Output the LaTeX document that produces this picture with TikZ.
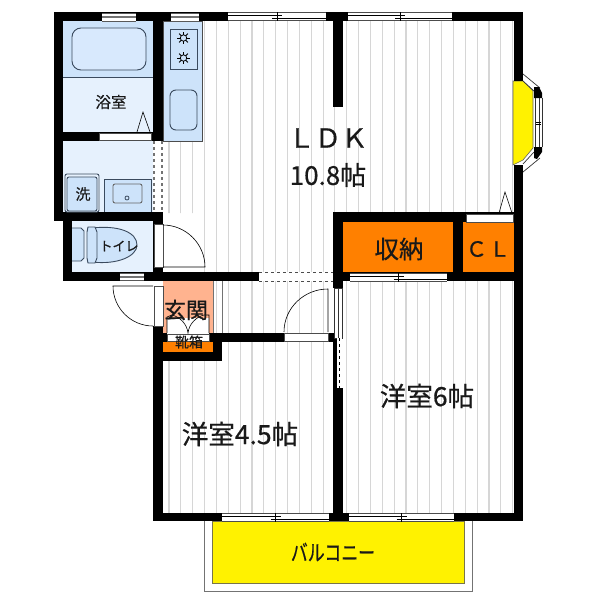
\documentclass[tikz,border=0pt]{standalone}
\usepackage{fontspec}
\usepackage{xcolor}
\setmainfont{Noto Sans CJK JP}[RawFeature={embolden=0.6}]
\definecolor{bathpale}{HTML}{E6F1FD}
\definecolor{bathblue}{HTML}{CDE3FA}
\definecolor{tubblue}{HTML}{D8E9FD}
\definecolor{storeorange}{HTML}{FF8000}
\definecolor{entrypeach}{HTML}{FFB38F}
\definecolor{hatchgrey}{HTML}{D6D6D6}
\definecolor{fixline}{HTML}{3A4A5E}
\begin{document}
\begin{tikzpicture}[x=1pt,y=-1pt,
                    wall/.style={fill=black},
                    fixture/.style={draw=fixline,line width=0.9pt,fill=bathblue},
                    doorleaf/.style={draw=black,line width=0.6pt},
                    opening/.style={fill=white,draw=black!70,line width=0.6pt},
                    glass/.style={draw=black,line width=0.9pt},
                    lbl/.style={inner sep=0pt,text=black!90}]
    \useasboundingbox (0,0) rectangle (600,600);
    % floor hatching
    \begin{scope}
        \clip (163,21) rectangle (513,213)
              (202,21) rectangle (333,272)
              (214,281) rectangle (333,333)
              (163,341) rectangle (333,513)
              (343,281) rectangle (513,513);
        \foreach \k in {0,...,29}
            \draw[hatchgrey,line width=1.1pt] ({169+11.85*\k},0) -- ({169+11.85*\k},600);
    \end{scope}
    % room fills
    \fill[bathpale] (63,21) rectangle (153,132);
    \fill[bathblue] (63,21) rectangle (153,77);
    \draw[fixline,line width=0.7pt] (63,77) -- (153,77);
    \fill[bathpale] (63,141) rectangle (153,212);
    \fill[bathpale] (72,221) rectangle (153,272);
    \fill[bathblue,draw=black!70,line width=0.5pt] (163,21) rectangle (202,141);
    \fill[entrypeach] (163,281) rectangle (213,333);
    \draw[black!55,line width=0.9pt] (213,281) -- (213,333) (222,281) -- (222,333);
    \fill[storeorange] (343,222) rectangle (453,272);
    \fill[storeorange] (463,222) rectangle (514,272);
    \fill[storeorange] (163,342) rectangle (213,352);
    % balcony
    \draw[black!55,line width=1pt] (204,521) -- (204,591) -- (472,591) -- (472,521);
    \fill[yellow,draw=black!60!yellow,line width=0.7pt] (212,521) rectangle (464,583);
    % bay window
    \fill[yellow,draw=black!60,line width=0.6pt] (513,81) -- (523,81) -- (533,91) -- (533,148) -- (523,160) -- (513,165) -- cycle;
    \draw[black!80,line width=0.7pt] (523,74) -- (540,88) (523,172) -- (540,158) (523,81) -- (534,91) (523,164) -- (534,152);
    \fill[black] (534,87) -- (539,87) -- (542,93) -- (542,98) -- (534,98) -- cycle;
    \fill[black] (534,147) -- (542,147) -- (542,152) -- (537,159) -- (534,158) -- cycle;
    \draw[black!80,line width=0.9pt] (535,98) -- (535,147) (539,98) -- (539,147) (542,98) -- (542,147);
    \draw[black,line width=0.6pt] (536,122) -- (541,122) (536,124) -- (541,124);
    % walls
    \fill[wall] (54,12) rectangle (523,21);
    \fill[wall] (54,12) rectangle (63,221);
    \fill[wall] (153,12) rectangle (163,141);
    \fill[wall] (54,132) rectangle (163,141);
    \fill[wall] (54,212) rectangle (163,221);
    \fill[wall] (63,221) rectangle (72,280);
    \fill[wall] (63,272) rectangle (163,281);
    \fill[wall] (153,221) rectangle (163,281);
    \fill[wall] (153,272) rectangle (259,281);
    \fill[wall] (153,326) rectangle (163,521);
    \fill[wall] (163,333) rectangle (167,342);
    \fill[wall] (209,333) rectangle (342,342);
    \fill[wall] (213,342) rectangle (222,361);
    \fill[wall] (153,352) rectangle (222,361);
    \fill[wall] (333,212) rectangle (523,222);
    \fill[wall] (333,212) rectangle (343,288);
    \fill[wall] (333,272) rectangle (523,281);
    \fill[wall] (453,222) rectangle (463,272);
    \fill[wall] (333,338) rectangle (337,388);
    \fill[wall] (333,388) rectangle (343,521);
    \fill[wall] (333,21) rectangle (343,107);
    \fill[wall] (514,12) rectangle (523,81);
    \fill[wall] (514,165) rectangle (523,521);
    \fill[wall] (153,513) rectangle (523,521);
    % small windows
    \foreach \xa/\xb/\ya/\yb in {102/136/13/21,171/199/13/21,120/144/273/280} {
        \fill[white] (\xa,\ya) rectangle (\xb,\yb);
        \draw[black!65,line width=0.7pt] (\xa,\ya) -- (\xb,\ya) (\xa,\yb) -- (\xb,\yb);
        \fill[black!55] (\xa,{(\ya+\yb)/2-1}) rectangle (\xb,{(\ya+\yb)/2+1});
    }
    % sliding windows
    \foreach \xa/\xb/\ya in {228/326/12,348/452/12,350/447/273,222/329/513,349/454/513} {
        \fill[white] (\xa,\ya) rectangle (\xb,\ya+8.5);
        \draw[black!70,line width=0.6pt] (\xa,\ya) -- (\xb,\ya) (\xa,\ya+8.5) -- (\xb,\ya+8.5);
        \draw[glass] (\xa,\ya+3) -- ({(\xa+\xb)/2+5},\ya+3);
        \draw[glass] ({(\xa+\xb)/2-5},\ya+6) -- (\xb,\ya+6);
        \draw[black,line width=0.6pt] ({(\xa+\xb)/2},\ya) -- ({(\xa+\xb)/2},\ya+8.5);
    }
    % doors and openings
    \fill[opening] (99,133) rectangle (151,140);
    \fill[opening] (466,214) rectangle (513,222);
    \fill[opening] (284,333) rectangle (328,341);
    \fill[opening] (154,224) rectangle (163,267);
    \fill[opening] (154,286) rectangle (163,326);
    \fill[white] (334,288) rectangle (342,338);
    \draw[black!80,line width=0.6pt] (334,288) rectangle (342,338) (338,288) -- (338,338);
    \fill[white] (337,338) rectangle (342,388);
    \draw[black,line width=0.9pt,dashed] (339.5,338) -- (339.5,388);
    \draw[doorleaf] (137,132) -- (143,112) -- (150,132);
    \draw[doorleaf] (499,213) -- (505,192) -- (512,213);
    \draw[doorleaf] (163,225) .. controls (186,225) and (205,244) .. (205,267) -- (163,267);
    \draw[doorleaf] (153,286) -- (113,286) .. controls (113,308) and (131,326) .. (153,326);
    \draw[doorleaf] (284,332) .. controls (284,308) and (304,289) .. (328,289) -- (328,332);
    % dashed room boundaries
    \draw[black!55,line width=1.1pt,dashed] (154,141) -- (154,212) (162,141) -- (162,212);
    \draw[black!70,line width=0.9pt,dashed] (259,272.5) -- (333,272.5) (259,281) -- (333,281);
    % bath and kitchen fixtures
    \draw[fixture,fill=tubblue,rounded corners=9pt] (72,28) rectangle (146,70);
    \draw[fixture] (170,29) rectangle (197,69);
    \draw[fixture,rounded corners=6pt] (170,90) rectangle (197,130);
    \foreach \by in {38,58} {
        \draw[black,line width=0.8pt] (183.5,\by) circle (3.2pt);
        \foreach \ang in {0,45,...,315}
            \draw[black,line width=0.8pt] (183.5,\by) ++(\ang:3.2) -- ++(\ang:3);
    }
    % washroom fixtures
    \draw[fixture,fill=bathpale,rounded corners=2pt] (65,174) rectangle (99,212);
    \draw[fixture,rounded corners=2pt] (67,177) rectangle (97,211);
    \draw[fixture] (104,212) -- (104,179) -- (151,179) -- (151,212);
    \draw[fixture,draw=black!60,rounded corners=2pt] (113,184) rectangle (142,203);
    \draw[fixline,line width=0.8pt] (127,198) circle (2pt);
    % toilet
    \draw[fixture] (72,228) -- (81,228) -- (84,231) -- (84,258) -- (81,261) -- (72,261);
    \draw[fixture] (92,228) .. controls (118,225) and (137,232) .. (137,245) .. controls (137,256) and (118,265) .. (92,262) -- cycle;
    \draw[fixture] (88,227) -- (95,227) -- (97,232) -- (97,258) -- (95,263) -- (88,263) -- (87,258) -- (87,232) -- cycle;
    % shoe cupboard
    \fill[white] (167,318) rectangle (209,333);
    \draw[black,line width=0.6pt] (167,333) -- (167,317) -- (172,315) .. controls (180,317) and (187,324) .. (188,333)
                                  .. controls (189,324) and (196,317) .. (204,315) -- (209,315) -- (209,333);
    \fill[opening] (167,334) rectangle (209,341);
    % room labels
    \node[lbl,font=\fontsize{15.5}{15.5}\selectfont] (bathLabel) at (111,102) {浴室};
    \node[lbl,font=\fontsize{26.5}{26.5}\selectfont] (ldkLabel) at (328,138) {ＬＤＫ};
    \node[lbl,font=\fontsize{26}{26}\selectfont] (ldkSize) at (328,175) {10.8帖};
    \node[lbl,font=\fontsize{24.5}{24.5}\selectfont] (storeLabel) at (399,249) {収納};
    \node[lbl,font=\fontsize{21}{21}\selectfont] (clLabel) at (488,249) {Ｃ\kern2pt Ｌ};
    \node[lbl,font=\fontsize{15}{15}\selectfont] (washLabel) at (83,194) {洗};
    \node[lbl,font=\fontsize{13}{13}\selectfont] (toiletLabel) at (119,246) {トイレ};
    \node[lbl,font=\fontsize{22}{22}\selectfont] (entryLabel) at (186,310) {玄関};
    \node[lbl,font=\fontsize{14}{14}\selectfont] (shoeLabel) at (189,342) {靴箱};
    \node[lbl,font=\fontsize{26.5}{26.5}\selectfont] (roomSmall) at (240,434) {洋室4.5帖};
    \node[lbl,font=\fontsize{26.5}{26.5}\selectfont] (roomLarge) at (427,396) {洋室6帖};
    \node[lbl,font=\fontsize{22}{22}\selectfont] (balconyLabel) at (333,552) {\scalebox{0.77}[1]{バルコニー}};
\end{tikzpicture}
\end{document}
